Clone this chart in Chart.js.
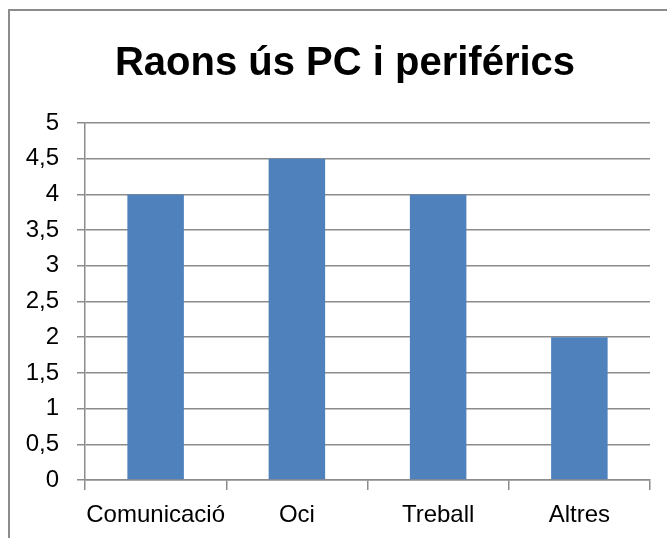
<!DOCTYPE html>
<html>
<head>
<meta charset="utf-8">
<script src="https://cdn.jsdelivr.net/npm/chart.js@4"></script>
<style>
  html, body { margin: 0; padding: 0; background: #fff; }
  #wrap { position: relative; width: 667px; height: 538px; }
  #marc { position: absolute; left: 8px; top: 9px; right: 0; bottom: 0;
          border-left: 2px solid #8c8c8c; border-top: 2px solid #8c8c8c; }
  canvas { position: absolute; left: 0; top: 0; }
</style>
</head>
<body>
<div id="wrap">
  <div id="marc"></div>
  <canvas id="grafic" width="667" height="538"></canvas>
</div>
<script>
// dades del grafic
const titol = "Raons ús PC i periférics"
const categories = ["Comunicació", "Oci", "Treball", "Altres"]
const valors = [4, 4.5, 4, 2]
const yMin = 0
const yMax = 5
const yPas = 0.5

document.addEventListener("DOMContentLoaded", function () {
  const lletra = "'Liberation Sans', Arial, sans-serif"
  const gris = '#8c8c8c'

  // el titol original esta centrat una mica mes a la dreta
  const moureTitol = {
    id: 'moureTitol',
    afterLayout(chart) {
      if (chart.titleBlock) chart.titleBlock.left += 30
    }
  }

  const ctx = document.getElementById("grafic")
  new Chart(ctx, {
    type: 'bar',
    data: {
      labels: categories,
      datasets: [{
        data: valors,
        backgroundColor: '#4F81BD',
        borderWidth: 0,
        barPercentage: 0.4,
        categoryPercentage: 1
      }]
    },
    options: {
      responsive: false,
      animation: false,
      layout: { padding: { left: 10, right: 17, top: 0, bottom: 0 } },
      plugins: {
        legend: { display: false },
        tooltip: { enabled: false },
        title: {
          display: true,
          text: titol,
          color: '#000',
          font: { family: lletra, size: 40, weight: 'bold' },
          padding: { top: 40, bottom: 35 }
        }
      },
      scales: {
        x: {
          grid: {
            offset: true,
            drawOnChartArea: false,
            drawTicks: true,
            tickLength: 10,
            color: gris,
            lineWidth: 1.5
          },
          border: { display: true, color: gris, width: 1.5 },
          ticks: {
            color: '#000',
            font: { family: lletra, size: 24 },
            padding: 11,
            maxRotation: 0,
            autoSkip: false
          },
          afterFit: function (scale) { scale.height = 58 }
        },
        y: {
          min: yMin,
          max: yMax,
          grid: { color: gris, lineWidth: 1.5, tickLength: 8 },
          border: { display: true, color: gris, width: 1.5 },
          ticks: {
            stepSize: yPas,
            color: '#000',
            font: { family: lletra, size: 24 },
            padding: 18,
            callback: function (v) { return String(v).replace('.', ',') }
          },
          afterFit: function (scale) { scale.width = 75 }
        }
      }
    },
    plugins: [moureTitol]
  })
})
</script>
</body>
</html>
